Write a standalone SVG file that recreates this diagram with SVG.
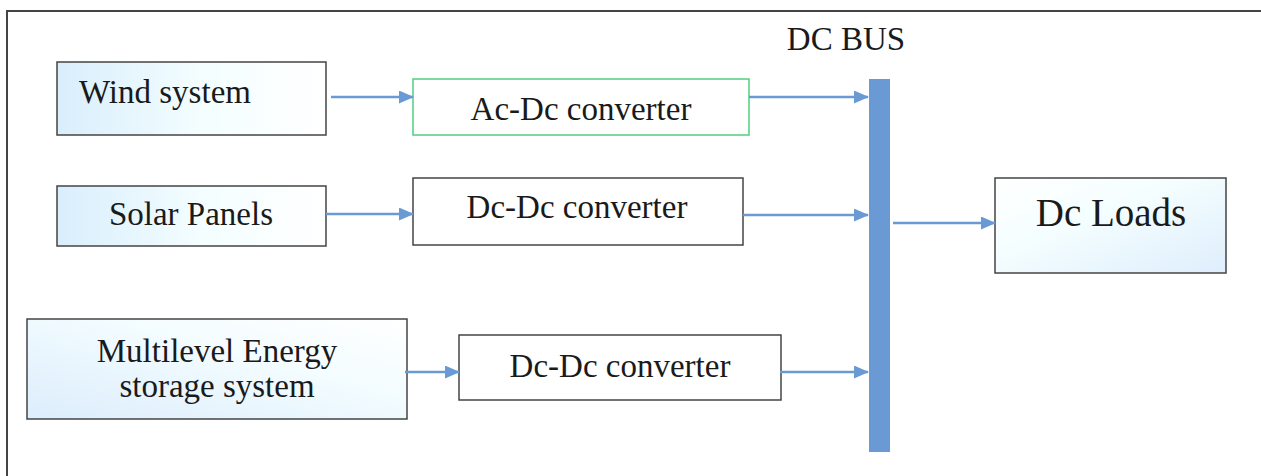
<svg xmlns="http://www.w3.org/2000/svg" width="1261" height="476" viewBox="0 0 1261 476">
<style>
text{font-family:"Liberation Serif","Times New Roman",serif;font-size:33px;fill:#1a1a1a;text-anchor:middle}
.box{stroke:#444;stroke-width:1.5}
.conn line{stroke:#6a9ad4;stroke-width:2.5;marker-end:url(#ah)}
</style>
<defs>
<marker id="ah" markerWidth="15" markerHeight="13" refX="14" refY="6.5" orient="auto" markerUnits="userSpaceOnUse">
<path d="M0,0 L15,6.5 L0,13 Z" fill="#6a9ad4"/>
</marker>
<linearGradient id="gh" x1="0" y1="0" x2="1" y2="0">
<stop offset="0" stop-color="#d9eefc"/><stop offset="0.55" stop-color="#f4feff"/><stop offset="1" stop-color="#ffffff"/>
</linearGradient>
<linearGradient id="gd" x1="0" y1="1" x2="1" y2="0">
<stop offset="0" stop-color="#dcedfc"/><stop offset="0.6" stop-color="#f3fcff"/><stop offset="1" stop-color="#ffffff"/>
</linearGradient>
<linearGradient id="gl" x1="0" y1="0" x2="1" y2="1">
<stop offset="0" stop-color="#ffffff"/><stop offset="0.4" stop-color="#f5feff"/><stop offset="1" stop-color="#deeefc"/>
</linearGradient>
</defs>
<rect x="0" y="0" width="1261" height="476" fill="#fff"/>
<rect x="7" y="11" width="1300" height="500" fill="none" stroke="#444" stroke-width="2"/>
<g id="dcbus"><rect x="869" y="79" width="21" height="373" fill="#6a9ad4"/><text x="846" y="50">DC BUS</text></g>
<g id="wind"><rect class="box" x="57" y="62" width="269" height="73" fill="url(#gh)"/><text x="165" y="103">Wind system</text></g>
<g id="solar"><rect class="box" x="57" y="186" width="269" height="60" fill="url(#gh)"/><text x="191" y="225">Solar Panels</text></g>
<g id="storage"><rect class="box" x="27" y="319" width="380" height="100" fill="url(#gd)"/><text x="217" y="362">Multilevel Energy</text><text x="217" y="397">storage system</text></g>
<g id="acdc"><rect x="413" y="79" width="336" height="56" fill="#fff" stroke="#4fcf7f" stroke-width="1.5"/><text x="581" y="120">Ac-Dc converter</text></g>
<g id="dcdc1"><rect class="box" x="413" y="178" width="330" height="67" fill="#fff"/><text x="577" y="218">Dc-Dc converter</text></g>
<g id="dcdc2"><rect class="box" x="459" y="335" width="322" height="65" fill="#fff"/><text x="620" y="377">Dc-Dc converter</text></g>
<g id="loads"><rect class="box" x="995" y="178" width="231" height="95" fill="url(#gl)"/><text x="1111" y="226" style="font-size:39px">Dc Loads</text></g>
<g id="connectors" class="conn">
<line x1="331" y1="97" x2="413" y2="97"/>
<line x1="749" y1="97" x2="868" y2="97"/>
<line x1="326" y1="214" x2="413" y2="214"/>
<line x1="743" y1="215" x2="868" y2="215"/>
<line x1="405" y1="372" x2="459" y2="372"/>
<line x1="780" y1="372" x2="868" y2="372"/>
<line x1="893" y1="223" x2="995" y2="223"/>
</g>
</svg>
